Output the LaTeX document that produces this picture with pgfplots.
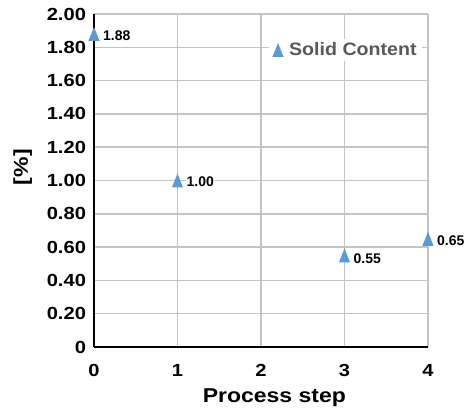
\documentclass[border=0pt]{standalone}
\usepackage{fontspec}
\setmainfont{Liberation Sans}
\newfontfamily\wide{Liberation Sans}[FakeStretch=1.15]
\newfontfamily\midw{Liberation Sans}[FakeStretch=1.09]
\usepackage{pgfplots}
\pgfplotsset{compat=1.18}
\definecolor{mk}{HTML}{5B9BD5}
\definecolor{gridc}{HTML}{C4C4C4}
\definecolor{legt}{HTML}{595959}
\pgfdeclareplotmark{tri}{%
  \pgfpathmoveto{\pgfpoint{0bp}{7bp}}%
  \pgfpathlineto{\pgfpoint{5.6bp}{-7bp}}%
  \pgfpathlineto{\pgfpoint{-5.6bp}{-7bp}}%
  \pgfpathclose\pgfusepathqfill}
\begin{document}
\begin{tikzpicture}
\begin{axis}[
  width=334bp, height=333bp, scale only axis,
  xmin=0, xmax=4, ymin=0, ymax=2,
  axis x line=bottom, axis y line=left,
  axis line style={black, line width=1.5bp, -},
  grid=major, grid style={gridc, line width=1.5bp},
  major tick length=0,
  xtick={0,1,2,3,4}, xticklabels={0,1,2,3,4},
  ytick={0,0.2,0.4,0.6,0.8,1.0,1.2,1.4,1.6,1.8,2.0},
  yticklabels={0,0.20,0.40,0.60,0.80,1.00,1.20,1.40,1.60,1.80,2.00},
  ticklabel style={font=\wide\bfseries\fontsize{17.5bp}{20bp}\selectfont},
  yticklabel style={xshift=-4.5bp},
  xticklabel style={yshift=-14bp},
  xlabel={Process step},
  ylabel={[\%]},
  label style={font=\wide\bfseries\fontsize{20bp}{22bp}\selectfont},
  xlabel style={at={(axis description cs:0.54,0)}, anchor=north, yshift=-38bp},
  ylabel style={at={(axis description cs:-0.175,0.54)}, anchor=south, rotate=0},
  legend style={at={(axis description cs:0.753,0.892)}, anchor=center,
    draw=none, fill=white, text=legt,
    font=\midw\bfseries\fontsize{18bp}{20bp}\selectfont},
  clip=false,
  nodes near coords={\pgfmathprintnumber[fixed,fixed zerofill,precision=2,assume math mode=true]{\pgfplotspointmeta}},
  point meta=y,
  every node near coord/.append style={anchor=west, xshift=8bp, yshift=-1.5bp,
    fill=white, inner sep=1bp, text=black,
    font=\bfseries\fontsize{14bp}{16bp}\selectfont},
]
\coordinate (O) at (rel axis cs:0,0);
\addplot[only marks, mark=tri, color=mk] coordinates {(0,1.88) (1,1.00) (4,0.65)};
\addlegendentry{\hspace{3.5bp}Solid Content}
\addplot[only marks, mark=tri, color=mk, forget plot,
  every node near coord/.append style={yshift=-2bp}] coordinates {(3,0.55)};
\end{axis}
\pgfresetboundingbox
\path ([shift={(-94bp,-61bp)}]O) rectangle ++(469bp,408bp);
\end{tikzpicture}
\end{document}
